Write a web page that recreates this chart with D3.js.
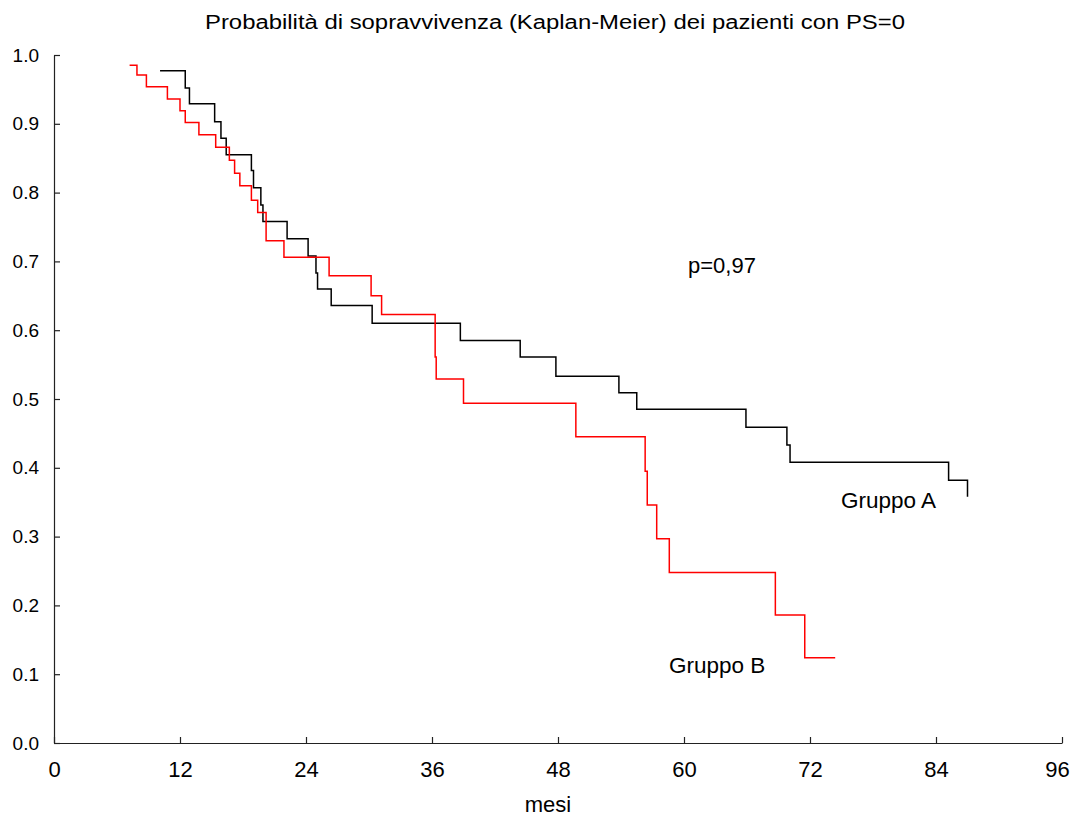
<!DOCTYPE html>
<html lang="it">
<head>
  <meta charset="UTF-8">
  <title>Kaplan-Meier PS=0</title>
  <script src="https://cdnjs.cloudflare.com/ajax/libs/d3/7.8.5/d3.min.js"></script>
  <style>
    body { margin: 0; background: #fff; }
    svg { display: block; font-family: "Liberation Sans", Arial, sans-serif; }
  </style>
</head>
<body>
<svg id="chart" width="1073" height="818"></svg>
<script>
  // Gruppo A (nero): tempi in mesi e sopravvivenza dopo ogni evento
  const mesiA = [10.1, 12.5, 12.9, 15.3, 15.9, 16.4, 18.8, 19.0, 19.7, 19.9, 22.2, 24.2, 24.95, 25.1, 26.4,
                 30.3, 38.7, 44.4, 47.8, 53.8, 55.5, 65.9, 69.8, 70.1, 85.2, 87.0];
  const survA = [0.977, 0.952, 0.929, 0.903, 0.879, 0.855, 0.832, 0.807, 0.782, 0.758, 0.733, 0.708, 0.683, 0.660, 0.636,
                 0.610, 0.585, 0.561, 0.533, 0.509, 0.485, 0.459, 0.433, 0.408, 0.382, 0.358];

  // Gruppo B (rosso)
  const mesiB = [7.2, 7.9, 8.8, 10.8, 12.0, 12.5, 13.8, 15.4, 16.7, 17.2, 17.7, 18.8, 19.4, 20.2, 21.9,
                 26.2, 30.2, 31.2, 36.3, 36.4, 39.0, 49.7, 56.3, 56.5, 57.4, 58.6, 68.7, 71.5, 74.4];
  const survB = [0.985, 0.971, 0.954, 0.936, 0.919, 0.902, 0.884, 0.866, 0.847, 0.828, 0.810, 0.789, 0.771, 0.730, 0.706,
                 0.679, 0.650, 0.623, 0.561, 0.529, 0.494, 0.445, 0.395, 0.346, 0.297, 0.248, 0.186, 0.124, 0.124];

  const xTicks = [0, 12, 24, 36, 48, 60, 72, 84, 96];
  const yTicks = [0, 0.1, 0.2, 0.3, 0.4, 0.5, 0.6, 0.7, 0.8, 0.9, 1.0];

  const svg = d3.select("#chart");
  const x = d3.scaleLinear().domain([0, 96]).range([54, 1062]);
  const y = d3.scaleLinear().domain([0, 1]).range([743, 55]);

  // assi
  const gx = svg.append("g")
    .attr("transform", `translate(0,${y(0)})`)
    .call(d3.axisBottom(x).tickValues(xTicks).tickSizeInner(-6).tickSizeOuter(0).tickPadding(0));
  gx.selectAll("text")
    .attr("y", 34)
    .attr("dy", 0)
    .attr("x", d => d === 96 ? -5 : 0)
    .attr("font-size", 22)
    .attr("fill", "#000");

  const gy = svg.append("g")
    .attr("transform", `translate(${x(0)},0)`)
    .call(d3.axisLeft(y).tickValues(yTicks).tickFormat(d3.format(".1f")).tickSizeInner(-6).tickSizeOuter(0).tickPadding(0));
  gy.selectAll("text")
    .attr("x", -15)
    .attr("font-size", 19)
    .attr("fill", "#000");

  svg.selectAll(".domain, .tick line").attr("stroke", "#222").attr("stroke-width", 1.2);

  // curve a gradini
  const line = d3.line()
    .x(d => x(d[0]))
    .y(d => y(d[1]))
    .curve(d3.curveStepAfter);

  svg.append("path")
    .datum(d3.zip(mesiA, survA))
    .attr("fill", "none")
    .attr("stroke", "#000")
    .attr("stroke-width", 1.5)
    .attr("d", line);

  svg.append("path")
    .datum(d3.zip(mesiB, survB))
    .attr("fill", "none")
    .attr("stroke", "#ff0000")
    .attr("stroke-width", 1.5)
    .attr("d", line);

  // testi
  svg.append("text")
    .attr("x", 205).attr("y", 29)
    .attr("font-size", 20)
    .attr("textLength", 700)
    .attr("lengthAdjust", "spacingAndGlyphs")
    .text("Probabilità di sopravvivenza (Kaplan-Meier) dei pazienti con PS=0");

  svg.append("text")
    .attr("x", 548).attr("y", 812)
    .attr("text-anchor", "middle")
    .attr("font-size", 22)
    .text("mesi");

  svg.append("text")
    .attr("x", 688).attr("y", 273)
    .attr("font-size", 22)
    .text("p=0,97");

  svg.append("text")
    .attr("x", 841).attr("y", 508)
    .attr("font-size", 22.5)
    .text("Gruppo A");

  svg.append("text")
    .attr("x", 669).attr("y", 673)
    .attr("font-size", 22.5)
    .text("Gruppo B");
</script>
</body>
</html>
